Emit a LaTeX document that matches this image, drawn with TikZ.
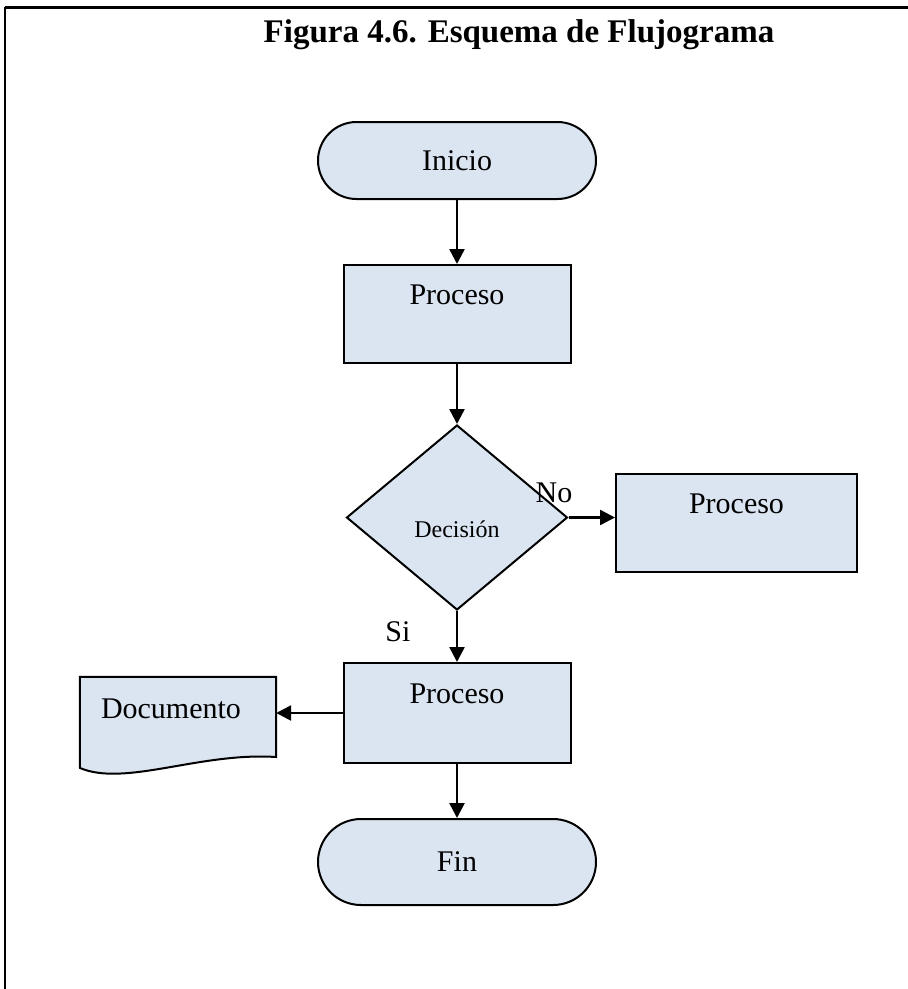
\documentclass[tikz,border=0pt]{standalone}
\usepackage{fontspec}
\setmainfont{Liberation Serif}
\usetikzlibrary{shapes.geometric,shapes.misc,arrows.meta}
\definecolor{boxfill}{HTML}{DBE5F1}
\tikzset{
  shp/.style={draw=black, fill=boxfill, line width=2pt, inner sep=0pt,
    font=\fontsize{30}{35}\selectfont},
  terminal/.style={shp, rounded rectangle, minimum width=278pt, minimum height=77pt},
  procbox/.style={shp, rectangle, text height=0pt, text depth=20pt},
  decbox/.style={shp, diamond, minimum width=221pt, minimum height=185pt,
    text height=39pt, text depth=0pt, font=\fontsize{24}{28}\selectfont},
  lbl/.style={inner sep=0pt, anchor=base, font=\fontsize{30}{35}\selectfont},
  arr/.style={line width=2.5pt, -{Triangle[length=15pt,width=15pt]}},
}
\begin{document}
\begin{tikzpicture}[x=1pt,y=-1pt]
\useasboundingbox (0,0) rectangle (908,989);
% frame
\draw[line width=3pt] (5,7) -- (908,7);
\draw[line width=1.8pt] (5,7) -- (5,989);
% title
\node[inner sep=0pt, anchor=base, font=\fontsize{33}{38}\selectfont\bfseries] (title) at (519,42) {Figura 4.6. Esquema de Flujograma};
% shapes
\node[terminal] (inicio) at (457,160.5) {Inicio};
\node[procbox, minimum width=227pt, minimum height=98pt] (p1) at (457,314) {Proceso};
\node[decbox] (dec) at (457,517.5) {Decisión};
\node[procbox, minimum width=241pt, minimum height=98pt] (p2) at (736.5,523) {Proceso};
\node[procbox, minimum width=227pt, minimum height=100pt] (p3) at (457,713) {Proceso};
\node[terminal, minimum height=86pt] (fin) at (457,862) {Fin};
% document
\node[rectangle, minimum width=196pt, minimum height=80pt, inner sep=0pt] (doc) at (178,717) {};
\draw[shp] (doc.north west) -- (doc.north east) -- (276,757)
  .. controls (200,752) and (125,787) .. (80,768) -- cycle;
\node[lbl] (doctext) at (171,718) {Documento};
% labels
\node[lbl] (nolbl) at (554,502) {No};
\node[lbl] (silbl) at (398,641) {Si};
% connectors
\draw[arr] (inicio.south) -- (p1.north);
\draw[arr] (p1.south) -- (dec.north);
\draw[arr] (dec.east) -- (dec.east -| p2.west);
\draw[arr] (dec.south) -- (p3.north);
\draw[arr] (p3.west |- 0,713) -- (doc.east |- 0,713);
\draw[arr] (p3.south) -- (fin.north);
\end{tikzpicture}
\end{document}
